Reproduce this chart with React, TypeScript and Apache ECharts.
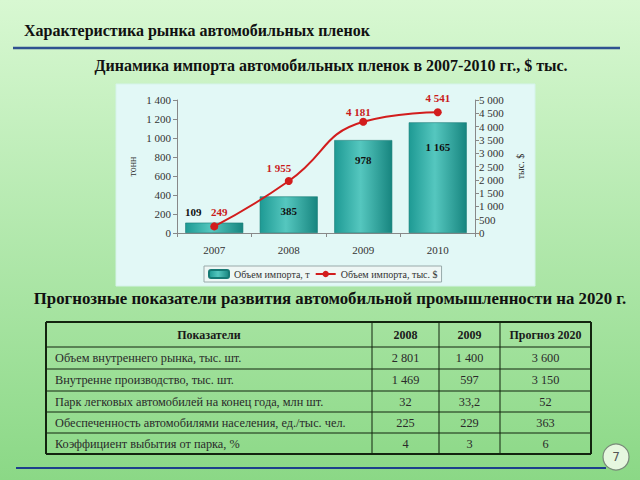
import React, { useEffect, useRef } from "react";
import * as echarts from "echarts";

const years = ["2007", "2008", "2009", "2010"];
const importTons = [109, 385, 978, 1165];
const importUsd = [249, 1955, 4181, 4541];
const barLabelDistance = [null, 9, 14, 19];

const tableHeader = ["Показатели", "2008", "2009", "Прогноз 2020"];
const rowLabels = [
  "Объем внутреннего рынка, тыс. шт.",
  "Внутренне производство, тыс. шт.",
  "Парк легковых автомобилей на конец года, млн шт.",
  "Обеспеченность автомобилями населения, ед./тыс. чел.",
  "Коэффициент выбытия от парка, %",
];
const values2008 = ["2 801", "1 469", "32", "225", "4"];
const values2009 = ["1 400", "597", "33,2", "229", "3"];
const values2020 = ["3 600", "3 150", "52", "363", "6"];

const SERIF = "Liberation Serif";
const fmt = (v: number) => String(v).replace(/\B(?=(\d{3})+(?!\d))/g, " ");

export default function App() {
  const ref = useRef<HTMLDivElement>(null);
  useEffect(() => {
    if (!ref.current) return;
    const chart = echarts.init(ref.current, null, { renderer: "svg" });

    const colX = [46, 372, 439, 500, 591];
    const rowY = [322, 347, 369, 391, 412, 433, 454];
    const graphics: any[] = [];
    graphics.push({
      type: "rect", z: -10,
      shape: { x: 116, y: 84, width: 419, height: 202 },
      style: { fill: "#e2f8f6", stroke: "#d5f3ea", lineWidth: 1 },
    });
    graphics.push({
      type: "text", x: 24, y: 30,
      style: { text: "Характеристика рынка автомобильных пленок", font: `bold 16px ${SERIF}`, fill: "#111", textVerticalAlign: "middle" },
    });
    graphics.push({
      type: "line", shape: { x1: 13, y1: 48, x2: 620, y2: 48 },
      style: { stroke: "#2f5290", lineWidth: 2.5 },
    });
    graphics.push({
      type: "text", x: 331, y: 65,
      style: { text: "Динамика импорта автомобильных пленок в 2007-2010 гг., $ тыс.", font: `bold 16px ${SERIF}`, fill: "#111", textAlign: "center", textVerticalAlign: "middle" },
    });
    graphics.push({
      type: "text", x: 330, y: 298,
      style: { text: "Прогнозные показатели развития автомобильной промышленности на 2020 г.", font: `bold 16.8px ${SERIF}`, fill: "#111", textAlign: "center", textVerticalAlign: "middle" },
    });
    for (let i = 0; i < rowY.length; i++) {
      const outer = i === 0 || i === rowY.length - 1;
      graphics.push({
        type: "line", shape: { x1: colX[0], y1: rowY[i], x2: colX[colX.length - 1], y2: rowY[i] },
        style: { stroke: "#13240f", lineWidth: outer ? 2 : 1 },
      });
    }
    for (let j = 0; j < colX.length; j++) {
      const outer = j === 0 || j === colX.length - 1;
      graphics.push({
        type: "line", shape: { x1: colX[j], y1: rowY[0], x2: colX[j], y2: rowY[rowY.length - 1] },
        style: { stroke: "#13240f", lineWidth: outer ? 2 : 1 },
      });
    }
    tableHeader.forEach((h, j) => {
      graphics.push({
        type: "text", x: (colX[j] + colX[j + 1]) / 2, y: (rowY[0] + rowY[1]) / 2,
        style: { text: h, font: `bold 12px ${SERIF}`, fill: "#1a1a1a", textAlign: "center", textVerticalAlign: "middle" },
      });
    });
    const cols = [values2008, values2009, values2020];
    rowLabels.forEach((lbl, i) => {
      const cy = (rowY[i + 1] + rowY[i + 2]) / 2;
      graphics.push({
        type: "text", x: 55, y: cy,
        style: { text: lbl, font: `12.3px ${SERIF}`, fill: "#2a2a2a", textVerticalAlign: "middle" },
      });
      cols.forEach((arr, k) => {
        graphics.push({
          type: "text", x: (colX[k + 1] + colX[k + 2]) / 2, y: cy,
          style: { text: arr[i], font: `12.3px ${SERIF}`, fill: "#2a2a2a", textAlign: "center", textVerticalAlign: "middle" },
        });
      });
    });
    graphics.push({
      type: "line", shape: { x1: 16, y1: 468, x2: 606, y2: 468 },
      style: { stroke: "#1d3f8c", lineWidth: 2 },
    });
    graphics.push({
      type: "circle", shape: { cx: 616, cy: 457, r: 13 },
      style: { fill: "#e6f7df", stroke: "#7a8a7a", lineWidth: 1.2 },
    });
    graphics.push({
      type: "text", x: 616, y: 457,
      style: { text: "7", font: `12px DejaVu Sans`, fill: "#555", textAlign: "center", textVerticalAlign: "middle" },
    });

    const axisText = { fontFamily: SERIF, fontSize: 11, color: "#333" };

    chart.setOption({
      animation: false,
      backgroundColor: new echarts.graphic.LinearGradient(0, 0, 0, 1, [
        { offset: 0, color: "#d8f8d2" },
        { offset: 1, color: "#8bd886" },
      ]),
      graphic: graphics,
      legend: {
        left: 204, top: 266,
        itemWidth: 20, itemHeight: 8, itemGap: 5,
        padding: [3, 4],
        backgroundColor: "#eef7f5",
        borderColor: "#9aa",
        borderWidth: 1,
        textStyle: { fontFamily: SERIF, fontSize: 10, color: "#333" },
        data: ["Объем импорта, т", "Объем импорта, тыс. $"],
      },
      grid: { left: 177, right: 165, top: 100, bottom: 247 },
      xAxis: {
        type: "category",
        data: years,
        axisLine: { lineStyle: { color: "#888" } },
        axisTick: { show: true, lineStyle: { color: "#888" }, length: 4 },
        axisLabel: { ...axisText, margin: 11 },
      },
      yAxis: [
        {
          type: "value", min: 0, max: 1400, interval: 200,
          name: "тонн", nameLocation: "middle", nameGap: 40,
          nameTextStyle: { fontFamily: SERIF, fontSize: 10, color: "#333" },
          axisLine: { show: true, lineStyle: { color: "#888" } },
          axisTick: { show: true, length: 4, lineStyle: { color: "#888" } },
          axisLabel: { ...axisText, margin: 6, formatter: fmt },
          splitLine: { show: false },
        },
        {
          type: "value", min: 0, max: 5000, interval: 500, position: "right",
          name: "тыс. $", nameLocation: "middle", nameGap: 40,
          nameTextStyle: { fontFamily: SERIF, fontSize: 10, color: "#333" },
          axisLine: { show: true, lineStyle: { color: "#888" } },
          axisTick: { show: true, length: 4, lineStyle: { color: "#888" } },
          axisLabel: { ...axisText, margin: 4, formatter: fmt },
          splitLine: { show: false },
        },
      ],
      series: [
        {
          name: "Объем импорта, т",
          type: "bar",
          yAxisIndex: 0,
          barWidth: 58,
          itemStyle: {
            color: new echarts.graphic.LinearGradient(0, 0, 1, 0, [
              { offset: 0, color: "#1e9a94" },
              { offset: 0.45, color: "#55c7bf" },
              { offset: 1, color: "#17857f" },
            ]),
            borderColor: "#167a75",
            borderWidth: 0.6,
          },
          data: importTons.map((v, i) => ({
            value: v,
            label: barLabelDistance[i] == null
              ? { show: true, position: "top", offset: [-21, 0] }
              : { show: true, position: "insideTop", distance: barLabelDistance[i] },
          })),
          label: {
            show: true,
            fontFamily: SERIF, fontSize: 11, fontWeight: "bold", color: "#111",
            formatter: (p: any) => fmt(p.value),
          },
        },
        {
          name: "Объем импорта, тыс. $",
          type: "line",
          yAxisIndex: 1,
          smooth: true,
          symbol: "circle",
          symbolSize: 8,
          lineStyle: { color: "#d21d1d", width: 2 },
          itemStyle: { color: "#d21d1d" },
          label: {
            show: true, position: "top",
            fontFamily: SERIF, fontSize: 11, fontWeight: "bold", color: "#c91b1b",
            formatter: (p: any) => fmt(p.value),
          },
          data: importUsd.map((v, i) => ({
            value: v,
            label: { offset: [[5, 0], [-10, 2], [-5, 5], [0, 0]][i] },
          })),
        },
      ],
    });
    return () => chart.dispose();
  }, []);
  return <div ref={ref} style={{ position: "fixed", left: 0, top: 0, width: 640, height: 480 }} />;
}
